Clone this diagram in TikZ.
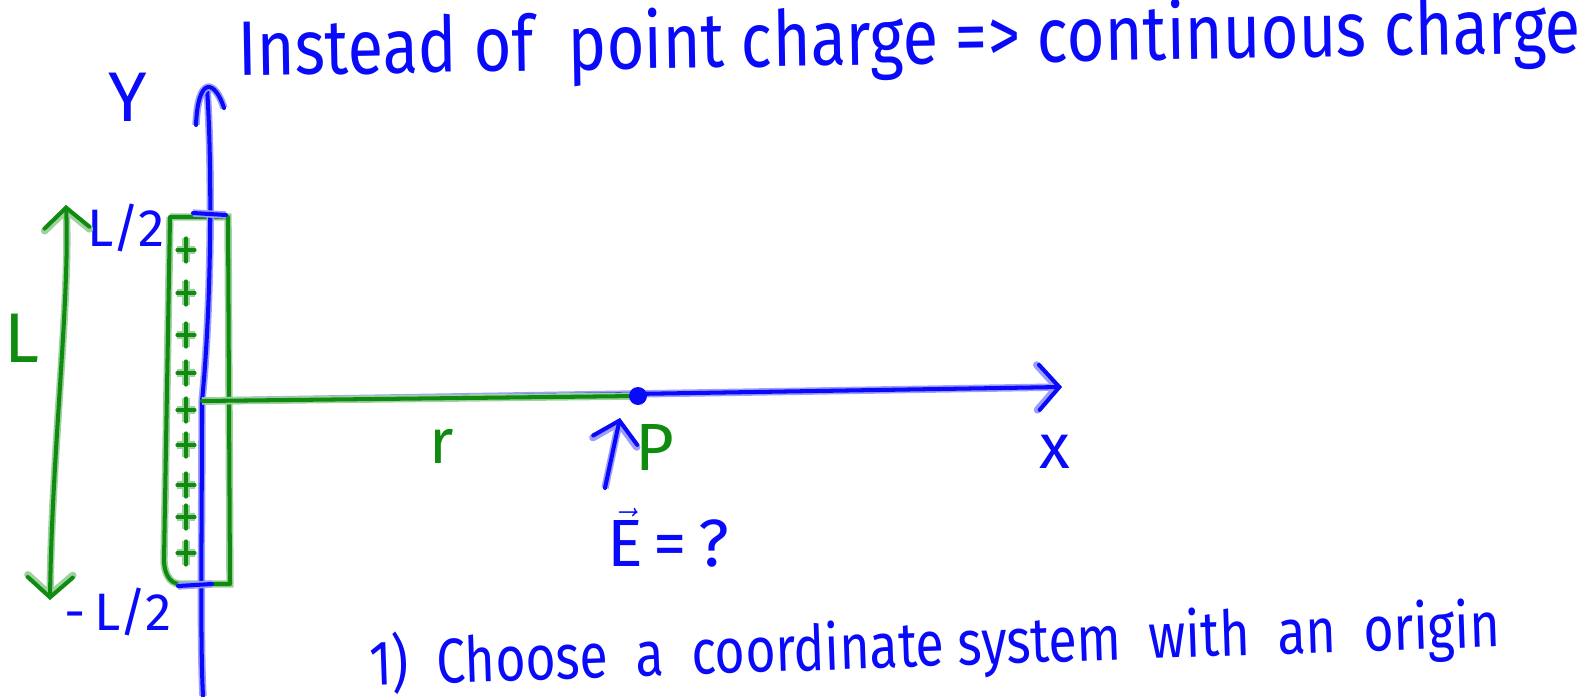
\documentclass[tikz,border=0pt]{standalone}
\usepackage{fontspec}
\setmainfont{Fira Sans}
\definecolor{penblue}{RGB}{10,10,250}
\definecolor{pengreen}{RGB}{15,140,15}
\usetikzlibrary{arrows.meta}
\tikzset{
  bluepen/.style={draw=penblue,line width=2.3pt,line cap=round,line join=round,
    preaction={draw=penblue!40,line width=4.2pt}},
  greenpen/.style={draw=pengreen,line width=2.3pt,line cap=round,line join=round,
    preaction={draw=pengreen!40,line width=4.2pt}},
  barb/.tip={Straight Barb[length=4mm,width=9mm,line cap=round]},
  scrawl/.style={inner sep=0pt,font=\fontsize{#1}{#1}\selectfont},
}

\begin{document}
\begin{tikzpicture}[x=0.02cm,y=-0.02cm]
        \useasboundingbox (0,0) rectangle (1591,696);
        \coordinate (O) at (202,401);
        \coordinate (ybot) at (203,696);
        \coordinate (ytop) at (207,88);
        \coordinate (xtip) at (1062,387);
        \coordinate (P) at (638,396);
        % charged rod
        \draw[greenpen] (170,217) -- (164,560) to[out=-90,in=180] (180,584) -- (230,584) -- (228,217) -- (170,217);
        \foreach \yy in {250,293,335,373,410,445,485,517,553}
          \draw[greenpen,line width=1.8pt] (177,\yy) -- (195,\yy) (186,\yy-12) -- (186,\yy+12);
        % axes
        \draw[bluepen] (ybot) .. controls (200,640) and (202,520) .. (O)
          .. controls (212,300) and (212,160) .. (ytop);
        \draw[bluepen] (196,125) .. controls (198,75) and (215,80) .. (224,108);
        \draw[bluepen,-barb] (O) -- (xtip);
        \draw[bluepen] (193,213) -- (226,215) (178,586) -- (212,584);
        \node[scrawl=40,text=penblue] (ylab) at (128,97) {Y};
        \node[scrawl=36,text=penblue] (xlab) at (1055,452) {x};
        \node[scrawl=30,text=penblue] (top) at (126,228) {L/2};
        \node[scrawl=30,text=penblue] (bot) at (118,612) {-\,L/2};
        % length of rod
        \coordinate (Ltop) at (66,205);
        \coordinate (Lbot) at (50,600);
        \draw[greenpen,barb-barb] (Lbot) .. controls (52,450) and (70,300) .. (Ltop);
        \node[scrawl=40,text=pengreen] (Llab) at (22,338) {L};
        % distance and field point
        \draw[greenpen] (O) -- (P);
        \node[scrawl=36,text=pengreen] (rlab) at (442,446) {r};
        \fill[penblue] (P) circle (9);
        \node[scrawl=38,text=pengreen] (Plab) at (655,447) {P};
        \coordinate (Efoot) at (605,488);
        \coordinate (Ehead) at (620,418);
        \draw[bluepen,-barb] (Efoot) -- (Ehead);
        \node[scrawl=38,text=penblue] (Elab) at (668,538) {$\vec{\mbox{E}}$\,=\,?};
        % notes
        \node[scrawl=44,text=penblue,anchor=base west,rotate=1] (title) at (238,76)
          {\scalebox{0.84}[1]{Instead of\ \ point charge => continuous charge}};
        \node[scrawl=36,text=penblue,anchor=base west,rotate=2] (step1) at (370,686)
          {\scalebox{0.82}[1]{1)\ \ Choose\ \ a\ \ coordinate system\ \ with\ \ an\ \ origin}};
      \end{tikzpicture}
\end{document}
